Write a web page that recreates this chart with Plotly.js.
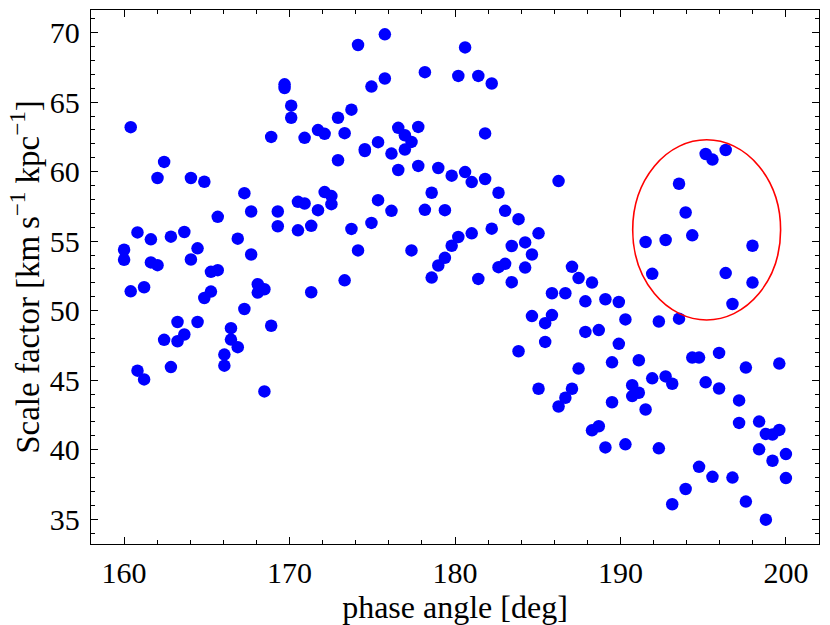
<!DOCTYPE html>
<html>
<head>
<meta charset="utf-8">
<script src="https://cdn.plot.ly/plotly-3.0.1.min.js"></script>
<style>html,body{margin:0;padding:0;background:#fff;}#chart{width:830px;height:625px;}</style>
</head>
<body>
<div id="chart"></div>
<script>
// phase angle [deg]
const phaseAngle = [
160.00,160.00,160.40,160.40,160.81,160.81,161.21,161.21,161.62,161.62,
162.02,162.02,162.42,162.42,162.83,162.83,163.23,163.23,163.64,163.64,
164.04,164.04,164.44,164.44,164.85,164.85,165.25,165.25,165.66,165.66,
166.06,166.06,166.46,166.46,166.87,166.87,167.27,167.27,167.68,167.68,
168.08,168.08,168.48,168.48,168.89,168.89,169.29,169.29,169.70,169.70,
170.10,170.10,170.51,170.51,170.91,170.91,171.31,171.31,171.72,171.72,
172.12,172.12,172.53,172.53,172.93,172.93,173.33,173.33,173.74,173.74,
174.14,174.14,174.55,174.55,174.95,174.95,175.35,175.35,175.76,175.76,
176.16,176.16,176.57,176.57,176.97,176.97,177.37,177.37,177.78,177.78,
178.18,178.18,178.59,178.59,178.99,178.99,179.39,179.39,179.80,179.80,
180.20,180.20,180.61,180.61,181.01,181.01,181.41,181.41,181.82,181.82,
182.22,182.22,182.63,182.63,183.03,183.03,183.43,183.43,183.84,183.84,
184.24,184.24,184.65,184.65,185.05,185.05,185.45,185.45,185.86,185.86,
186.26,186.26,186.67,186.67,187.07,187.07,187.47,187.47,187.88,187.88,
188.28,188.28,188.69,188.69,189.09,189.09,189.49,189.49,189.90,189.90,
190.30,190.30,190.71,190.71,191.11,191.11,191.52,191.52,191.92,191.92,
192.32,192.32,192.73,192.73,193.13,193.13,193.54,193.54,193.94,193.94,
194.34,194.34,194.75,194.75,195.15,195.15,195.56,195.56,195.96,195.96,
196.36,196.36,196.77,196.77,197.17,197.17,197.58,197.58,197.98,197.98,
198.38,198.38,198.79,198.79,199.19,199.19,199.60,199.60,200.00,200.00
];
// scale factor [km s^-1 kpc^-1]
const scaleFactor = [
54.38,53.66, 63.20,51.39, 55.63,45.68, 51.68,45.05, 55.13,53.47,
59.54,53.27, 60.70,47.90, 55.32,45.94, 49.18,47.80, 55.66,48.28,
59.54,53.68, 54.48,49.18, 59.27,50.91, 52.79,51.37, 56.75,52.91,
46.84,46.04, 48.74,47.92, 55.18,47.37, 58.45,50.12, 57.13,54.04,
51.90,51.30, 51.54,44.19, 62.50,48.91, 57.13,56.07, 66.28,66.02,
64.75,63.88, 57.83,55.78, 62.43,57.71, 56.10,51.32, 62.99,57.23,
62.72,58.53, 58.24,57.66, 63.88,60.82, 62.77,52.18, 64.46,55.88,
69.11,54.33, 61.62,61.48, 66.12,56.31, 62.12,57.95, 69.88,66.70,
61.30,57.18, 63.15,60.12, 62.62,61.59, 62.14,54.33, 63.22,60.41,
67.16,57.25, 58.48,52.38, 60.26,53.25, 57.23,53.80, 59.71,54.67,
66.89,55.30, 68.94,59.97, 59.25,55.56, 66.89,52.28, 62.75,59.47,
66.34,55.90, 58.48,53.13, 57.18,53.37, 54.65,52.05, 56.58,47.08,
54.91,53.10, 54.04,49.61, 55.56,44.38, 49.10,47.75, 51.25,49.68,
59.32,43.10, 51.25,43.73, 53.15,44.38, 52.34,45.83, 50.67,48.47,
52.02,41.39, 48.60,41.68, 50.82,40.16, 46.28,43.41, 50.62,47.61,
49.37,40.38, 44.64,43.85, 46.43,44.09, 42.89,54.94, 45.13,52.65,
49.22,40.09, 45.27,55.08, 44.74,36.07, 49.42,59.13, 37.17,57.06,
46.62,55.42, 46.62,38.76, 44.84,61.27, 38.04,60.87, 46.96,44.40,
61.56,52.70, 37.99,50.48, 43.54,41.92, 45.90,36.26, 54.67,52.02,
42.02,40.02, 41.13,34.96, 41.08,39.20, 46.19,41.42, 39.68,37.95
];
// highlighted region (ellipse bounds, data units)
const ellipseX = [190.74, 199.68];
const ellipseY = [49.33, 62.29];

const xTickVals = [160, 170, 180, 190, 200];
const yTickVals = [35, 40, 45, 50, 55, 60, 65, 70];

const fontFam = '"Liberation Serif", "DejaVu Serif", serif';

const trace = {
  x: phaseAngle,
  y: scaleFactor,
  type: 'scatter',
  mode: 'markers',
  marker: {color: '#0000ff', size: 12.5, line: {width: 0}},
  hoverinfo: 'x+y'
};

const axisCommon = {
  showgrid: false,
  zeroline: false,
  showline: true,
  linecolor: '#000',
  linewidth: 1.2,
  mirror: 'allticks',
  ticks: 'inside',
  ticklen: 7,
  tickwidth: 1,
  tickcolor: '#000',
  tickfont: {family: fontFam, size: 30, color: '#000'}
};

const layout = {
  width: 830,
  height: 625,
  margin: {l: 91, r: 11, t: 10, b: 81},
  paper_bgcolor: '#fff',
  plot_bgcolor: '#fff',
  showlegend: false,
  font: {family: fontFam, color: '#000'},
  xaxis: Object.assign({}, axisCommon, {
    range: [158, 202],
    tickvals: xTickVals,
    ticktext: xTickVals.map(String),
    ticklabelstandoff: 2,
    minor: {ticks: 'inside', dtick: 2, tick0: 160, ticklen: 4, tickwidth: 1, tickcolor: '#000', showgrid: false},
    title: {text: 'phase angle [deg]', font: {family: fontFam, size: 32, color: '#000'}, standoff: 0}
  }),
  yaxis: Object.assign({}, axisCommon, {
    range: [33.21, 71.63],
    tickvals: yTickVals,
    ticktext: yTickVals.map(String),
    ticklabelstandoff: 4,
    minor: {ticks: 'inside', dtick: 1, tick0: 35, ticklen: 4, tickwidth: 1, tickcolor: '#000', showgrid: false},
    title: {text: 'Scale factor [km\u2009s<sup>\u22121</sup> kpc<sup>\u22121</sup>]', font: {family: fontFam, size: 33, color: '#000'}, standoff: 0}
  }),
  shapes: [{
    type: 'circle',
    xref: 'x', yref: 'y',
    x0: ellipseX[0], x1: ellipseX[1],
    y0: ellipseY[0], y1: ellipseY[1],
    line: {color: '#ff0000', width: 1.6},
    fillcolor: 'rgba(0,0,0,0)'
  }]
};

Plotly.newPlot('chart', [trace], layout, {displayModeBar: false, staticPlot: true});
</script>
</body>
</html>
